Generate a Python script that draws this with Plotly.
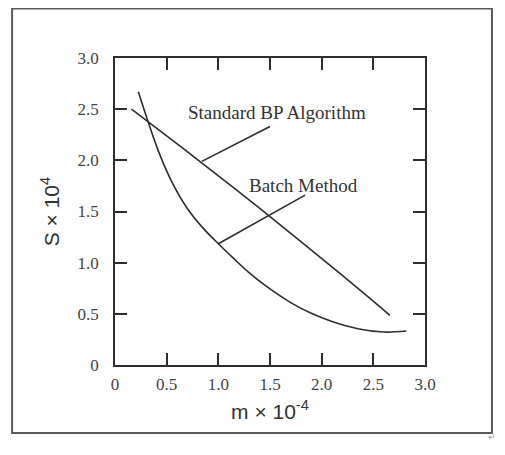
import plotly.graph_objects as go

# Data
bp_x = [0.16, 0.50, 0.82, 1.15, 1.50, 1.85, 2.20, 2.45, 2.66]
bp_y = [2.50, 2.24, 1.99, 1.73, 1.45, 1.165, 0.875, 0.665, 0.485]

batch_x = [0.226, 0.306, 0.42, 0.55, 0.70, 0.85, 1.00, 1.15, 1.30, 1.47, 1.70, 1.90, 2.10, 2.35, 2.60, 2.82]
batch_y = [2.67, 2.42, 2.09, 1.79, 1.53, 1.34, 1.185, 1.04, 0.90, 0.765, 0.61, 0.505, 0.425, 0.355, 0.322, 0.332]

# leader lines (start on curve, end near label)
bp_leader_x = [0.84, 1.50]
bp_leader_y = [1.99, 2.33]
batch_leader_x = [1.00, 1.84]
batch_leader_y = [1.185, 1.66]

labels = ["Standard BP Algorithm", "Batch Method"]
label_x = [1.57, 1.82]
label_y = [2.47, 1.75]

tick_vals = [0, 0.5, 1.0, 1.5, 2.0, 2.5, 3.0]
tick_text = ["0", "0.5", "1.0", "1.5", "2.0", "2.5", "3.0"]

line_col = "#2e2e2e"
serif = "Liberation Serif, Times New Roman, serif"
sans = "Liberation Sans, Arial, sans-serif"

fig = go.Figure()
for xs, ys in [(bp_x, bp_y), (batch_x, batch_y), (bp_leader_x, bp_leader_y), (batch_leader_x, batch_leader_y)]:
    fig.add_trace(go.Scatter(x=xs, y=ys, mode="lines", line=dict(color=line_col, width=1.6, shape="spline"),
                             showlegend=False, hoverinfo="skip"))

for t, x, y in zip(labels, label_x, label_y):
    fig.add_annotation(x=x, y=y, text=t, showarrow=False, xref="x", yref="y",
                       font=dict(family=serif, size=19, color="#333333"))

axis_common = dict(
    range=[0, 3.0], tickvals=tick_vals, ticktext=tick_text, ticks="inside", ticklen=12,
    tickwidth=1.5, tickcolor=line_col, showline=True, linecolor=line_col, linewidth=1.8,
    mirror="ticks", showgrid=False, zeroline=False,
    tickfont=dict(family=serif, size=17, color="#444444"),
)

fig.update_xaxes(**axis_common, ticklabelstandoff=3,
                 title=dict(text="m × 10<sup>-4</sup>", standoff=11,
                            font=dict(family=sans, size=21, color="#333333")))
fig.update_yaxes(**axis_common, ticklabelstandoff=11,
                 title=dict(text="S × 10<sup>4</sup>", standoff=12,
                            font=dict(family=sans, size=21, color="#333333")))

# outer frame
fig.add_shape(type="rect", xref="paper", yref="paper", x0=-0.332, x1=1.216, y0=-0.2215, y1=1.161,
              line=dict(color="#5a5a5a", width=2))
fig.add_annotation(xref="paper", yref="paper", x=1.235, y=-0.262, text="\u21b5", showarrow=False,
                   font=dict(size=9, color="#999999"))

fig.update_layout(width=489, height=439, margin=dict(l=107, r=72, t=50, b=82),
                  plot_bgcolor="white", paper_bgcolor="white")

fig.write_html("out.html")
